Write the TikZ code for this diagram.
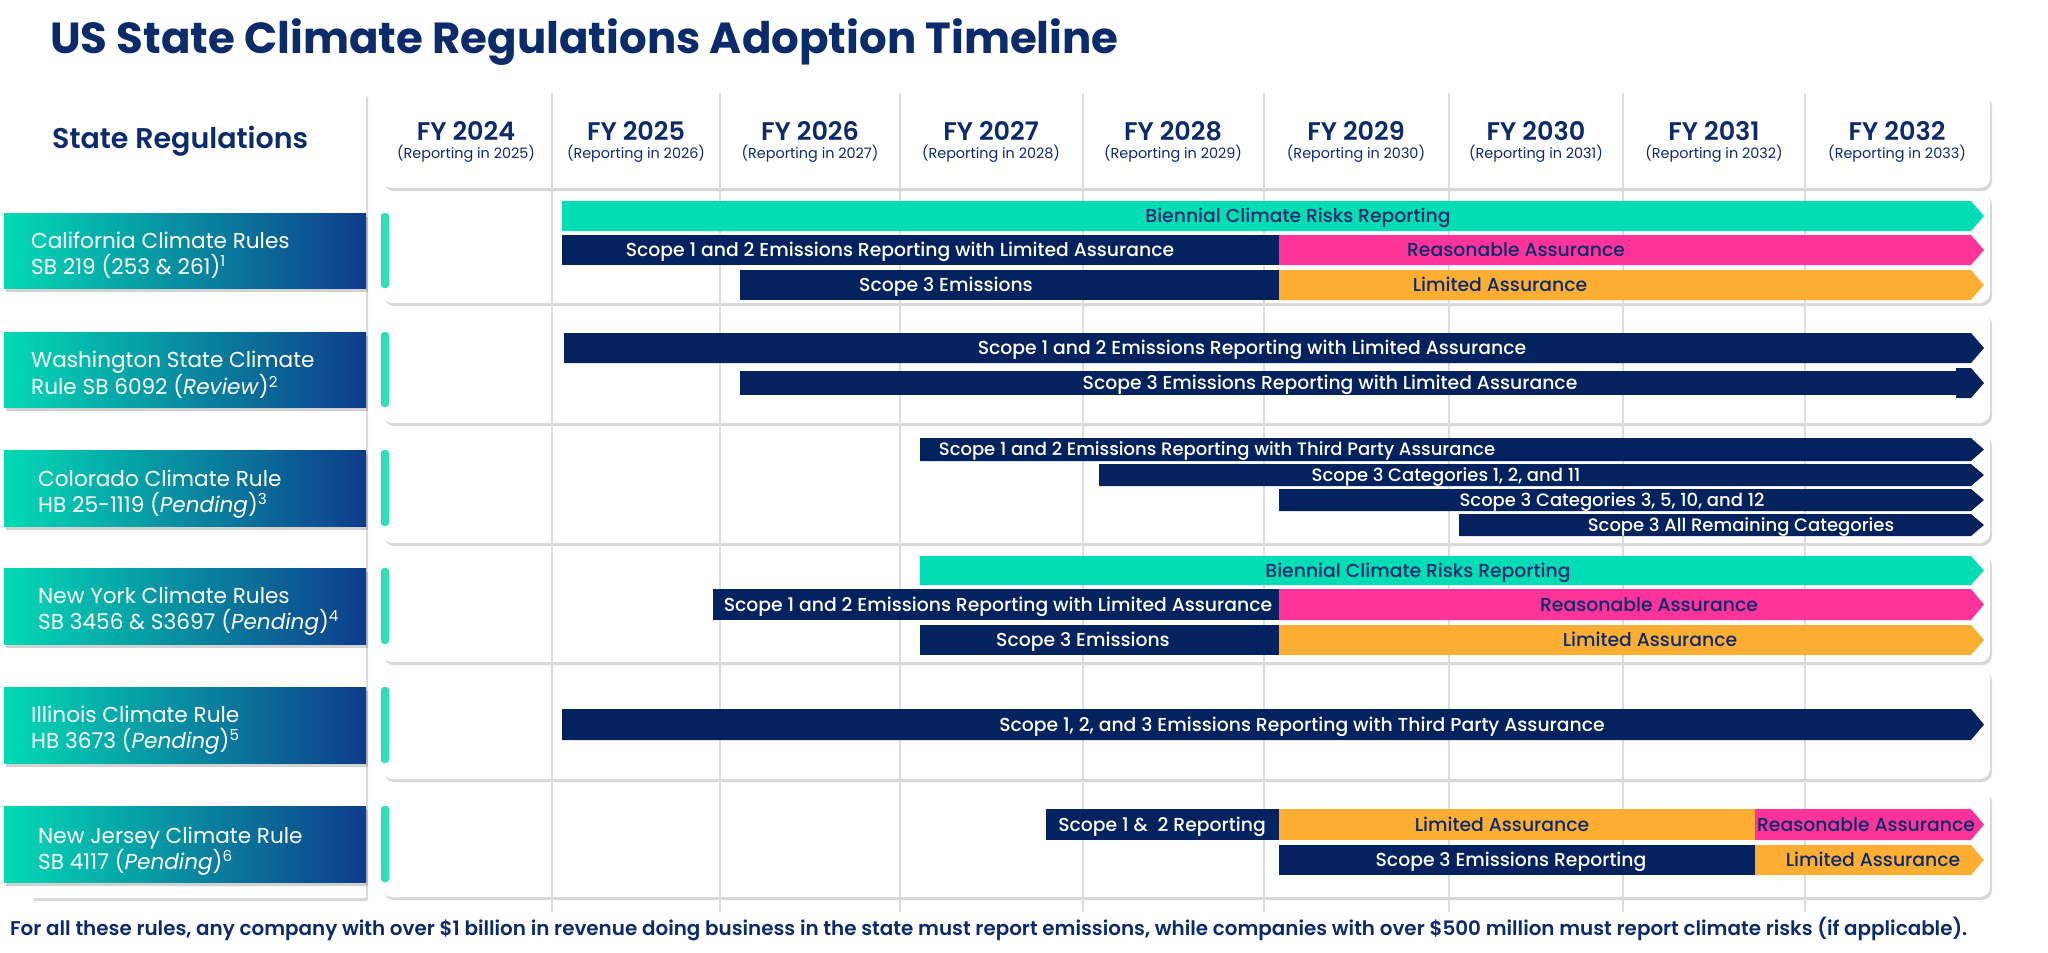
\documentclass[tikz,border=0pt]{standalone}
\usepackage{fontspec}
\setmainfont{Poppins}
\IfFontExistsTF{Poppins Medium}{\newfontfamily\medfont{Poppins Medium}}{\newcommand\medfont{\normalfont}}
\IfFontExistsTF{Poppins SemiBold}{\newfontfamily\semifont{Poppins SemiBold}}{\newcommand\semifont{\bfseries}}
\usetikzlibrary{shadows}

\definecolor{inknavy}{HTML}{0C2B6B}
\definecolor{barnavy}{HTML}{03225E}
\definecolor{barteal}{HTML}{02DDB6}
\definecolor{barpink}{HTML}{FF3399}
\definecolor{barorange}{HTML}{FFAE34}
\definecolor{tabteal}{HTML}{2EDFB8}
\definecolor{labteal}{HTML}{04DAB5}
\definecolor{labmid}{HTML}{0B639B}
\definecolor{labblue}{HTML}{0D3C8C}
\definecolor{gridgray}{HTML}{DCDCDC}

\newcommand\barfont{\medfont\fontsize{18.8}{22}\selectfont}
\newcommand\cofont{\medfont\fontsize{18}{21}\selectfont}
\newcommand\barbox[5]{\fill[#1] (#2,#4) rectangle (#3,#5);}
\newcommand\barend[5]{\fill[#1] (#2,#4) -- ({#3-13},#4) -- (#3,{(#4+#5)/2}) -- ({#3-13},#5) -- (#2,#5) -- cycle;}

\begin{document}
\begin{tikzpicture}[x=1pt,y=-1pt,
  card/.style={fill=white, rounded corners=10pt, drop shadow={shadow xshift=2pt, shadow yshift=-3pt, opacity=0.3}},
  statebox/.style={left color=labteal, middle color=labmid, right color=labblue, drop shadow={shadow xshift=2pt, shadow yshift=-4pt, opacity=0.35}},
  tab/.style={fill=tabteal, rounded corners=3pt},
  gridline/.style={draw=gridgray, line width=1.5pt},
  statelbl/.style={anchor=west, align=left, inner sep=0pt, text=white, font=\fontsize{21.6}{26}\selectfont},
  yearlbl/.style={inner sep=0pt, text=inknavy, text height=18pt, text depth=0pt, font=\semifont\fontsize{25.5}{30}\selectfont},
  replbl/.style={inner sep=0pt, text=inknavy, text height=10pt, text depth=0pt, font=\fontsize{14.4}{16}\selectfont},
  onnavy/.style={inner sep=0pt, text=white, text height=13pt, text depth=0pt, font=\barfont},
  onlight/.style={inner sep=0pt, text=inknavy, text height=13pt, text depth=0pt, font=\barfont},
  oncolo/.style={inner sep=0pt, text=white, text height=12.5pt, text depth=0pt, font=\cofont}]

\fill[white] (0,0) rectangle (2048,953);
\useasboundingbox (0,0) rectangle (2048,953);

\node[anchor=base west, inner sep=0pt, text=inknavy, font=\bfseries\fontsize{43.5}{50}\selectfont] (title) at (50,53) {US State Climate Regulations Adoption Timeline};

\fill[card, rounded corners=2pt] (31,93) rectangle (366,898);
\node[anchor=base west, inner sep=0pt, text=inknavy, font=\semifont\fontsize{28.5}{32}\selectfont] (head) at (52,148) {State Regulations};

\fill[card] (382,93) rectangle (1990,188);
\fill[card] (382,192) rectangle (1990,303);
\fill[card] (382,312) rectangle (1990,423);
\fill[card] (382,433) rectangle (1990,543);
\fill[card] (382,553) rectangle (1990,662);
\fill[card] (382,668) rectangle (1990,779);
\fill[card] (382,789) rectangle (1990,897);

\foreach \gx in {552,720,900,1083,1264,1449,1623,1805}
  \draw[gridline] (\gx,93) -- (\gx,912);

\foreach \cx/\fy in {466/2024,636/2025,810/2026,991/2027,1173/2028,1356/2029,1536/2030,1714/2031,1897/2032}{
  \pgfmathtruncatemacro\ry{\fy+1}
  \node[yearlbl] (fy\fy) at (\cx,131) {FY \fy};
  \node[replbl] (rep\fy) at (\cx,153) {(Reporting in \ry)};
}

\fill[statebox] (4,213) rectangle (366,288);
\fill[statebox] (4,332) rectangle (366,407);
\fill[statebox] (4,450) rectangle (366,526);
\fill[statebox] (4,568) rectangle (366,644);
\fill[statebox] (4,687) rectangle (366,763);
\fill[statebox] (4,806) rectangle (366,882);
\fill[tab] (381,213) rectangle (389,288);
\fill[tab] (381,332) rectangle (389,407);
\fill[tab] (381,450) rectangle (389,526);
\fill[tab] (381,568) rectangle (389,644);
\fill[tab] (381,687) rectangle (389,763);
\fill[tab] (381,806) rectangle (389,882);

\node[statelbl] (ca) at (31,255) {California Climate Rules\\SB 219 (253 \& 261)\textsuperscript{1}};
\node[statelbl] (wa) at (31,375) {Washington State Climate\\Rule SB 6092 (\textit{Review})\textsuperscript{2}};
\node[statelbl] (co) at (38,494) {Colorado Climate Rule\\HB 25-1119 (\textit{Pending})\textsuperscript{3}};
\node[statelbl] (ny) at (38,611) {New York Climate Rules\\SB 3456 \& S3697 (\textit{Pending})\textsuperscript{4}};
\node[statelbl] (il) at (31,730) {Illinois Climate Rule\\HB 3673 (\textit{Pending})\textsuperscript{5}};
\node[statelbl] (nj) at (38,851) {New Jersey Climate Rule\\SB 4117 (\textit{Pending})\textsuperscript{6}};

% California
\barend{barteal}{562}{1984}{201}{231}
\barbox{barnavy}{562}{1279}{235}{265}
\barend{barpink}{1279}{1984}{235}{265}
\barbox{barnavy}{740}{1279}{270}{300}
\barend{barorange}{1279}{1984}{270}{300}
\node[onlight] (cabien) at (1298,216) {Biennial Climate Risks Reporting};
\node[onnavy] (caone) at (900,250) {Scope 1 and 2 Emissions Reporting with Limited Assurance};
\node[onlight] (careas) at (1516,250) {Reasonable Assurance};
\node[onnavy] (cathree) at (946,285) {Scope 3 Emissions};
\node[onlight] (calim) at (1500,285) {Limited Assurance};

% Washington
\barend{barnavy}{564}{1984}{333}{363}
\barbox{barnavy}{740}{1956}{371}{395}
\barend{barnavy}{1956}{1984}{368}{398}
\node[onnavy] (waone) at (1252,348) {Scope 1 and 2 Emissions Reporting with Limited Assurance};
\node[onnavy] (wathree) at (1330,383) {Scope 3 Emissions Reporting with Limited Assurance};

% Colorado
\barend{barnavy}{920}{1984}{438}{461}
\barend{barnavy}{1099}{1984}{464}{486}
\barend{barnavy}{1279}{1984}{489}{511}
\barend{barnavy}{1459}{1984}{514}{536}
\node[oncolo] (coone) at (1217,449.5) {Scope 1 and 2 Emissions Reporting with Third Party Assurance};
\node[oncolo] (cocata) at (1446,475) {Scope 3 Categories 1, 2, and 11};
\node[oncolo] (cocatb) at (1612,500) {Scope 3 Categories 3, 5, 10, and 12};
\node[oncolo] (cocatc) at (1741,525) {Scope 3 All Remaining Categories};

% New York
\barend{barteal}{920}{1984}{556}{585}
\barbox{barnavy}{713}{1279}{589}{620}
\barend{barpink}{1279}{1984}{589}{620}
\barbox{barnavy}{920}{1279}{625}{655}
\barend{barorange}{1279}{1984}{625}{655}
\node[onlight] (nybien) at (1418,570.5) {Biennial Climate Risks Reporting};
\node[onnavy] (nyone) at (998,604.5) {Scope 1 and 2 Emissions Reporting with Limited Assurance};
\node[onlight] (nyreas) at (1649,604.5) {Reasonable Assurance};
\node[onnavy] (nythree) at (1083,640) {Scope 3 Emissions};
\node[onlight] (nylim) at (1650,640) {Limited Assurance};

% Illinois
\barend{barnavy}{562}{1984}{709}{740}
\node[onnavy] (ilall) at (1302,724.5) {Scope 1, 2, and 3 Emissions Reporting with Third Party Assurance};

% New Jersey
\barbox{barnavy}{1046}{1279}{809}{840}
\barbox{barorange}{1279}{1755}{809}{840}
\barend{barpink}{1755}{1984}{809}{840}
\barbox{barnavy}{1279}{1755}{845}{875}
\barend{barorange}{1755}{1984}{845}{875}
\node[onnavy] (njone) at (1162,824.5) {Scope 1 \&~ 2 Reporting};
\node[onlight] (njlim) at (1502,824.5) {Limited Assurance};
\node[onlight] (njreas) at (1866,824.5) {Reasonable Assurance};
\node[onnavy] (njthree) at (1511,860) {Scope 3 Emissions Reporting};
\node[onlight] (njlimb) at (1873,860) {Limited Assurance};

\node[anchor=base west, inner sep=0pt, text=inknavy, font=\semifont\fontsize{19.9}{24}\selectfont] (foot) at (10,935) {For all these rules, any company with over \$1 billion in revenue doing business in the state must report emissions, while companies with over \$500 million must report climate risks (if applicable).};
\end{tikzpicture}
\end{document}
